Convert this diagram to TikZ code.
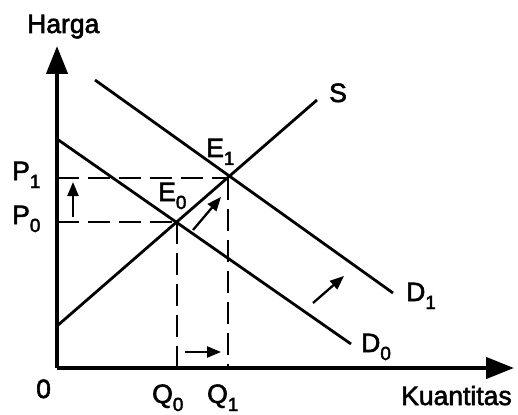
\documentclass[tikz,border=0pt]{standalone}
\usepackage{fontspec}
\setmainfont{Liberation Sans}
\newfontfamily\lblfont{Liberation Sans}[FakeBold=2.2]
\usetikzlibrary{arrows.meta}
\newcommand\sbs[1]{\raisebox{-8pt}{\fontsize{19}{19}\selectfont #1}}
\begin{document}
\begin{tikzpicture}[x=1pt,y=-1pt,
  curve/.style={line width=2.8pt},
  axis/.style={line width=4.4pt,-{Triangle[width=21pt,length=28pt]}},
  guide/.style={line width=2.7pt,dash pattern=on 22pt off 9pt},
  shiftarrow/.style={line width=2.3pt,-{Triangle[width=11pt,length=14pt]}},
  lbl/.style={font=\lblfont\fontsize{26.5}{26.5}\selectfont,inner sep=0pt,anchor=base west}]
\useasboundingbox (0,0) rectangle (518,414);
% key points
\coordinate (O) at (57,368);
\coordinate (ytop) at (57,46);
\coordinate (xend) at (514,368);
\coordinate (E0) at (177,222);
\coordinate (E1) at (228,178);
\coordinate (P0) at (57,222);
\coordinate (P1) at (57,178);
\coordinate (Q0) at (177,368);
\coordinate (Q1) at (228,368);
\coordinate (D0a) at (57,139);
\coordinate (D0b) at (351,344);
\coordinate (D1a) at (95,80);
\coordinate (D1b) at (393,293);
\coordinate (Sa) at (57,326);
\coordinate (Sb) at (317,100);
% dashed guides
\draw[guide] (P1) -- (E1);
\draw[guide] (P0) -- (E0);
\draw[guide] (E0) -- (Q0);
\draw[guide] (E1) -- (Q1);
% curves
\draw[curve] (D0a) -- (D0b);
\draw[curve] (D1a) -- (D1b);
\draw[curve] (Sa) -- (Sb);
% axes
\draw[axis] (O) -- (ytop);
\draw[axis] (O) -- (xend);
% shift arrows
\coordinate (a1s) at (73,217); \coordinate (a1e) at (73,182);
\coordinate (a2s) at (193,230); \coordinate (a2e) at (221,197);
\coordinate (a3s) at (313,303); \coordinate (a3e) at (344,276);
\coordinate (a4s) at (185,352); \coordinate (a4e) at (221,352);
\draw[shiftarrow] (a1s) -- (a1e);
\draw[shiftarrow] (a2s) -- (a2e);
\draw[shiftarrow] (a3s) -- (a3e);
\draw[shiftarrow] (a4s) -- (a4e);
% labels
\node[lbl] (harga) at (27,33) {Harga};
\node[lbl] (p1) at (12,180) {P\sbs{1}};
\node[lbl] (p0) at (12,224) {P\sbs{0}};
\node[lbl] (e1) at (206,157) {E\sbs{1}};
\node[lbl] (e0) at (158,201) {E\sbs{0}};
\node[lbl] (s) at (329,102) {S};
\node[lbl] (d1) at (406,301) {D\sbs{1}};
\node[lbl] (d0) at (361,352) {D\sbs{0}};
\node[lbl] (zero) at (36,398) {0};
\node[lbl] (q0) at (152,403) {Q\sbs{0}};
\node[lbl] (q1) at (207,403) {Q\sbs{1}};
\node[lbl] (kuan) at (401,405) {Kuantitas};
\end{tikzpicture}
\end{document}
